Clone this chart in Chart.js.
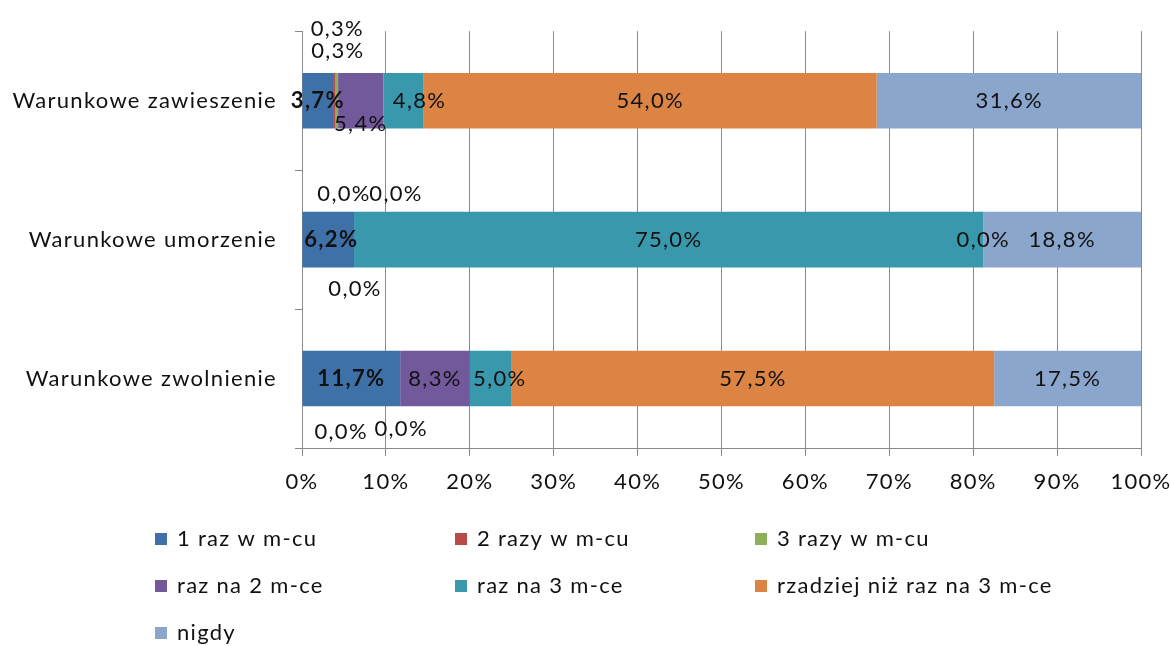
<!DOCTYPE html>
<html>
<head>
<meta charset="utf-8">
<script src="https://cdn.jsdelivr.net/npm/chart.js@4.4.1/dist/chart.umd.min.js"></script>
<style>
  html, body { margin: 0; padding: 0; background: #fff; }
  #wrap { position: relative; width: 1170px; height: 646px; }
</style>
</head>
<body>
<div id="wrap"><canvas id="chart"></canvas></div>
<script>
(function () {
    'use strict';

    // ── dane ─────────────────────────────────────────────────────────────
    var categories = ['Warunkowe zawieszenie', 'Warunkowe umorzenie', 'Warunkowe zwolnienie'];
    var seriesNames = ['1 raz w m-cu', '2 razy w m-cu', '3 razy w m-cu', 'raz na 2 m-ce',
                       'raz na 3 m-ce', 'rzadziej niż raz na 3 m-ce', 'nigdy'];

    var raz1     = [3.7, 6.2, 11.7];
    var razy2    = [0.3, 0.0, 0.0];
    var razy3    = [0.3, 0.0, 0.0];
    var razNa2   = [5.4, 0.0, 8.3];
    var razNa3   = [4.8, 75.0, 5.0];
    var rzadziej = [54.0, 0.0, 57.5];
    var nigdy    = [31.6, 18.8, 17.5];

    var xTicks = [0, 10, 20, 30, 40, 50, 60, 70, 80, 90, 100];

    // ── wygląd ───────────────────────────────────────────────────────────
    var FONT = 'Lato, "Open Sans", sans-serif';
    var FS = 22;
    var SPACING = '1.3px';
    var TEXT = '#111';
    var colors = ['#3F71A9', '#B94A47', '#8DAF59', '#72599B', '#3A98AD', '#DC8444', '#8BA6CC'];
    var boldSeries = [true, false, false, false, false, false, false];

    // przesunięcia etykiet (jak w oryginale, ręcznie przesuwane)
    var labelShift = [
        [[0, 0], [3, 0], [0, 0]],
        [[3, -72], [-10, -46], [-59, 53]],
        [[1, -50], [42, -46], [1, 50]],
        [[0, 23], [1, 49], [0, 0]],
        [[16, 0], [0, 0], [9, 0]],
        [[0, 0], [0, 0], [0, 0]],
        [[0, 0], [0, 0], [0, 0]]
    ];

    var seriesData = [raz1, razy2, razy3, razNa2, razNa3, rzadziej, nigdy];

    function fmt(v) { return v.toFixed(1).replace('.', ',') + '%'; }

    var datasets = seriesData.map(function (d, i) {
        return {
            label: seriesNames[i],
            data: d,
            backgroundColor: colors[i],
            borderWidth: 0,
            categoryPercentage: 0.4,
            barPercentage: 1.0
        };
    });

    // szerszy rozstaw liter, jak w oryginale
    var spacing = {
        id: 'spacing',
        beforeDraw: function (chart) { chart.ctx.letterSpacing = SPACING; }
    };

    // ── etykiety danych ──────────────────────────────────────────────────
    var valueLabels = {
        id: 'valueLabels',
        afterDatasetsDraw: function (chart) {
            var ctx = chart.ctx;
            ctx.save();
            ctx.letterSpacing = SPACING;
            ctx.textAlign = 'center';
            ctx.textBaseline = 'middle';
            ctx.fillStyle = TEXT;
            chart.data.datasets.forEach(function (ds, i) {
                var meta = chart.getDatasetMeta(i);
                ctx.font = (boldSeries[i] ? 'bold ' : '') + FS + 'px ' + FONT;
                meta.data.forEach(function (el, j) {
                    var cx = (el.x + el.base) / 2 + labelShift[i][j][0];
                    var cy = el.y + labelShift[i][j][1];
                    ctx.fillText(fmt(ds.data[j]), cx, cy);
                });
            });
            ctx.restore();
        }
    };

    // ── legenda (3 kolumny) ──────────────────────────────────────────────
    var gridLegend = {
        id: 'gridLegend',
        afterDraw: function (chart) {
            var ctx = chart.ctx;
            var colX = [155, 455, 755];
            var rowY = [539, 586, 633];
            ctx.save();
            ctx.letterSpacing = SPACING;
            ctx.font = FS + 'px ' + FONT;
            ctx.textBaseline = 'middle';
            ctx.textAlign = 'left';
            chart.data.datasets.forEach(function (ds, i) {
                var x = colX[i % 3];
                var y = rowY[Math.floor(i / 3)];
                ctx.fillStyle = ds.backgroundColor;
                ctx.fillRect(x, y - 6, 12, 12);
                ctx.fillStyle = TEXT;
                ctx.fillText(ds.label, x + 22, y);
            });
            ctx.restore();
        }
    };

    new Chart(document.getElementById('chart').getContext('2d'), {
        type: 'bar',
        data: { labels: categories, datasets: datasets },
        options: {
            indexAxis: 'y',
            responsive: true,
            maintainAspectRatio: false,
            animation: false,
            layout: { padding: { top: 25, right: 29, left: 0, bottom: 0 } },
            plugins: {
                legend: { display: false },
                tooltip: { enabled: false }
            },
            scales: {
                x: {
                    stacked: true,
                    min: 0,
                    max: 100,
                    afterBuildTicks: function (scale) {
                        scale.ticks = xTicks.map(function (v) { return { value: v }; });
                    },
                    afterFit: function (scale) {
                        scale.height = 198;
                        scale.paddingLeft = 0;
                        scale.paddingRight = 0;
                    },
                    ticks: {
                        color: TEXT,
                        font: { family: FONT, size: FS },
                        padding: 13,
                        maxRotation: 0,
                        callback: function (v) { return v + '%'; }
                    },
                    grid: { color: '#8a8a8a', lineWidth: 1, tickLength: 8 },
                    border: { color: '#8a8a8a', width: 1 }
                },
                y: {
                    stacked: true,
                    afterFit: function (scale) { scale.width = 302; },
                    ticks: {
                        color: TEXT,
                        font: { family: FONT, size: FS },
                        padding: 18
                    },
                    grid: { drawOnChartArea: false, drawTicks: true, tickLength: 7, color: '#8a8a8a', offset: true },
                    border: { color: '#8a8a8a', width: 1 }
                }
            }
        },
        plugins: [spacing, valueLabels, gridLegend]
    });
})();
</script>
</body>
</html>
